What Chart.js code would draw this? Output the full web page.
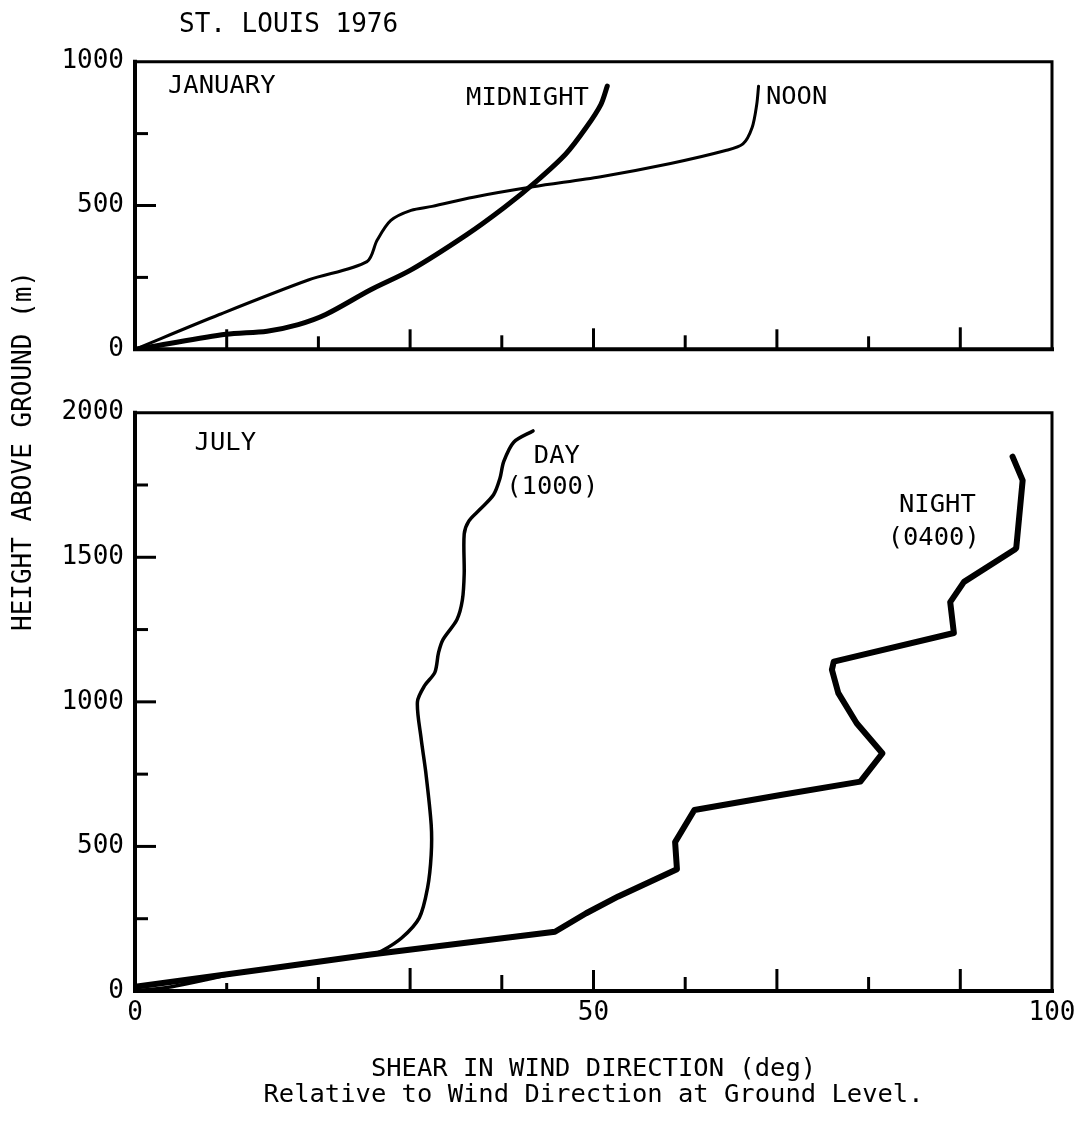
<!DOCTYPE html>
<html>
<head>
<meta charset="utf-8">
<script src="https://cdn.jsdelivr.net/npm/chart.js@4.4.1/dist/chart.umd.min.js"></script>
<style>
  html, body { margin: 0; padding: 0; background: #ffffff; }
  #wrap { position: relative; width: 1077px; height: 1133px; background: #ffffff; }
  #wrap canvas { position: absolute; left: 0; top: 0; }
</style>
</head>
<body>
<div id="wrap">
  <canvas id="janChart" width="1077" height="1133"></canvas>
  <canvas id="julChart" width="1077" height="1133"></canvas>
</div>
<script>
// ---------------- DATA ----------------
// Shear in wind direction (deg) vs height above ground (m)

// January, midnight
const janMidnightDeg    = [0, 2.1, 9.9, 14.4, 17.8, 20.8, 25.7, 30.1, 36.1, 40.3, 43.8, 47.0, 49.2, 50.8, 51.5];
const janMidnightHeight = [0, 11, 52, 63, 86, 121, 207, 276, 397, 494, 585, 680, 771, 851, 915];

// January, noon
const janNoonDeg    = [0, 9.2, 18.9, 25.3, 26.4, 27.9, 30.1, 32.4, 36.9, 43.4, 50.8, 58.4, 64.4, 66.3, 67.3, 67.8, 68.0];
const janNoonHeight = [0, 121, 241, 305, 379, 448, 483, 497, 529, 565, 600, 646, 691, 714, 771, 851, 915];

// July, day (1000)
const julDayDeg    = [0, 4, 12.3, 25.7, 26.9, 29.1, 31.0, 31.9, 32.3, 32.3, 31.7, 31.2, 30.8, 31.6, 32.7, 33.1, 33.6, 35.1, 35.7, 35.9, 35.9, 36.4, 37.6, 39.1, 39.8, 40.2, 41.3, 43.4];
const julDayHeight = [0, 15, 68, 125, 138, 184, 253, 356, 471, 575, 759, 874, 1000, 1057, 1102, 1170, 1216, 1284, 1352, 1443, 1580, 1625, 1665, 1716, 1773, 1830, 1898, 1937];

// July, night (0400)
const julNightDeg    = [0, 14.7, 25.7, 45.8, 49.2, 52.7, 59.1, 58.9, 61.0, 70.4, 79.1, 81.5, 78.7, 76.7, 76.0, 76.2, 89.3, 88.9, 90.4, 95.9, 96.1, 96.8, 95.7];
const julNightHeight = [15, 78, 126, 205, 269, 327, 421, 515, 626, 678, 724, 822, 926, 1030, 1111, 1139, 1238, 1345, 1415, 1526, 1532, 1766, 1848];

// Axis ticks
const xTickLabels    = [0, 50, 100];
const xTickMarks     = [10, 20, 30, 40, 50, 60, 70, 80, 90];
const janYTickLabels = [0, 500, 1000];
const janYTickMarks  = [250, 500, 750];
const julYTickLabels = [0, 500, 1000, 1500, 2000];
const julYTickMarks  = [250, 500, 750, 1000, 1250, 1500, 1750];

// Texts
const chartTitle = 'ST. LOUIS 1976';
const yAxisTitle = 'HEIGHT ABOVE GROUND (m)';
const xAxisTitle = ['SHEAR IN WIND DIRECTION (deg)', 'Relative to Wind Direction at Ground Level.'];

// ---------------- RENDERING ----------------
const FONT = '"DejaVu Sans Mono", "Liberation Mono", monospace';
const toPoints = (xs, ys) => xs.map((v, i) => ({ x: v, y: ys[i] }));

const decor = {
  id: 'panelDecor',
  afterDatasetsDraw(chart, args, o) {
    const { ctx, chartArea: a, scales: { x, y } } = chart;
    ctx.save();
    ctx.strokeStyle = '#000';
    ctx.fillStyle = '#000';
    ctx.lineCap = 'square';
    // frame
    ctx.lineWidth = 3;
    ctx.beginPath();
    ctx.moveTo(a.left, a.top); ctx.lineTo(a.right, a.top); ctx.lineTo(a.right, a.bottom);
    ctx.stroke();
    ctx.lineWidth = 4;
    ctx.beginPath();
    ctx.moveTo(a.left, a.top); ctx.lineTo(a.left, a.bottom); ctx.lineTo(a.right, a.bottom);
    ctx.stroke();
    // inward tick marks
    ctx.lineCap = 'butt';
    ctx.lineWidth = 3;
    o.xMarks.forEach((v, i) => {
      const px = x.getPixelForValue(v);
      ctx.beginPath();
      ctx.moveTo(px, a.bottom);
      ctx.lineTo(px, a.bottom - o.xLens[i]);
      ctx.stroke();
    });
    o.yMarks.forEach((v) => {
      const py = y.getPixelForValue(v);
      ctx.beginPath();
      ctx.moveTo(a.left, py);
      ctx.lineTo(a.left + (v % 500 === 0 ? 21 : 13), py);
      ctx.stroke();
    });
    // in-panel labels (data coordinates)
    ctx.textBaseline = 'middle';
    ctx.font = '25.5px ' + FONT;
    o.labels.forEach((l) => {
      ctx.textAlign = l.align || 'left';
      ctx.fillText(l.text, x.getPixelForValue(l.x), y.getPixelForValue(l.y));
    });
    // free texts (page coordinates)
    (o.texts || []).forEach((t) => {
      ctx.save();
      ctx.font = t.size + 'px ' + FONT;
      ctx.textAlign = t.align;
      ctx.textBaseline = 'middle';
      ctx.translate(t.px, t.py);
      if (t.rotate) ctx.rotate(t.rotate);
      ctx.fillText(t.text, 0, 0);
      ctx.restore();
    });
    ctx.restore();
  }
};

function lineSet(label, xs, ys, width, tension) {
  return {
    label,
    data: toPoints(xs, ys),
    showLine: true,
    borderColor: '#000',
    backgroundColor: '#000',
    borderWidth: width,
    tension: tension,
    pointRadius: 0,
    pointHoverRadius: 0,
    fill: false,
    borderCapStyle: 'round',
    borderJoinStyle: 'round'
  };
}

const plainLabel = (v) => String(v);

function yScale(max, labels) {
  return {
    type: 'linear',
    min: 0,
    max: max,
    afterFit(s) { s.width = 135; s.paddingTop = 0; s.paddingBottom = 0; },
    afterBuildTicks(s) { s.ticks = labels.map(v => ({ value: v })); },
    grid: { display: false, drawTicks: false },
    border: { display: false },
    ticks: { color: '#000', font: { family: FONT, size: 26 }, padding: 11, callback: plainLabel }
  };
}

const commonPlugins = { legend: { display: false }, tooltip: { enabled: false } };

new Chart(document.getElementById('janChart'), {
  type: 'scatter',
  data: {
    datasets: [
      lineSet('MIDNIGHT', janMidnightDeg, janMidnightHeight, 5, 0.3),
      lineSet('NOON', janNoonDeg, janNoonHeight, 3, 0.3)
    ]
  },
  options: {
    responsive: false,
    animation: false,
    devicePixelRatio: 1,
    layout: { padding: { left: 0, top: 61.7, right: 25, bottom: 783.7 } },
    plugins: Object.assign({}, commonPlugins, {
      panelDecor: {
        xMarks: xTickMarks,
        xLens: [20, 13, 20, 14, 21, 14, 20, 13, 22],
        yMarks: janYTickMarks,
        labels: [
          { text: 'JANUARY', x: 3.6, y: 914 },
          { text: 'MIDNIGHT', x: 36.1, y: 874 },
          { text: 'NOON', x: 68.8, y: 876 }
        ],
        texts: [
          { text: chartTitle, px: 179, py: 25, size: 26, align: 'left' },
          { text: yAxisTitle, px: 24, py: 451, size: 26, align: 'center', rotate: -Math.PI / 2 }
        ]
      }
    }),
    scales: {
      x: { type: 'linear', min: 0, max: 100, display: false },
      y: yScale(1000, janYTickLabels)
    }
  },
  plugins: [decor]
});

new Chart(document.getElementById('julChart'), {
  type: 'scatter',
  data: {
    datasets: [
      lineSet('DAY (1000)', julDayDeg, julDayHeight, 3.5, 0.3),
      lineSet('NIGHT (0400)', julNightDeg, julNightHeight, 6, 0)
    ]
  },
  options: {
    responsive: false,
    animation: false,
    devicePixelRatio: 1,
    layout: { padding: { left: 0, top: 412.7, right: 25, bottom: 25 } },
    plugins: Object.assign({}, commonPlugins, {
      panelDecor: {
        xMarks: xTickMarks,
        xLens: [8, 14, 23, 16, 21, 14, 22, 14, 22],
        yMarks: julYTickMarks,
        labels: [
          { text: 'JULY', x: 6.5, y: 1895 },
          { text: 'DAY', x: 46.0, y: 1848, align: 'center' },
          { text: '(1000)', x: 45.5, y: 1742, align: 'center' },
          { text: 'NIGHT', x: 87.5, y: 1678, align: 'center' },
          { text: '(0400)', x: 87.1, y: 1567, align: 'center' }
        ]
      }
    }),
    scales: {
      x: {
        type: 'linear',
        min: 0,
        max: 100,
        afterFit(s) { s.height = 117; s.paddingLeft = 0; s.paddingRight = 0; },
        afterBuildTicks(s) { s.ticks = xTickLabels.map(v => ({ value: v })); },
        grid: { display: false, drawTicks: false },
        border: { display: false },
        ticks: { color: '#000', font: { family: FONT, size: 26 }, padding: 7, maxRotation: 0, callback: plainLabel },
        title: {
          display: true,
          text: xAxisTitle,
          color: '#000',
          font: { family: FONT, size: 25.5, lineHeight: 1.02 },
          padding: { top: 0, bottom: 0 }
        }
      },
      y: yScale(2000, julYTickLabels)
    }
  },
  plugins: [decor]
});
</script>
</body>
</html>
